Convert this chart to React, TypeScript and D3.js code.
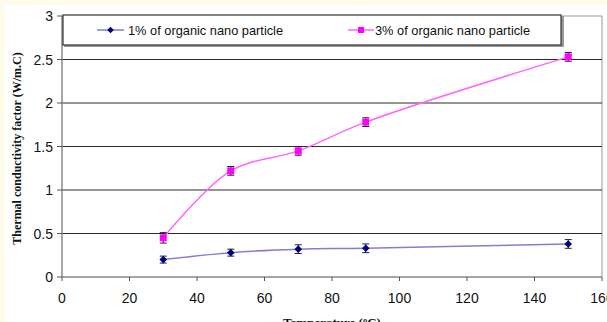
import React from "react";
import * as d3 from "d3";

// temperatures (ºC) and conductivity values
const temps = [30, 50, 70, 90, 150];
const onePct = [0.2, 0.28, 0.32, 0.33, 0.38];
const oneErr = [0.04, 0.04, 0.05, 0.05, 0.05];
const threePct = [0.45, 1.22, 1.45, 1.78, 2.53];
const threeErr = [0.06, 0.05, 0.05, 0.05, 0.05];
const xTicks = [0, 20, 40, 60, 80, 100, 120, 140, 160];
const yTicks = [0, 0.5, 1, 1.5, 2, 2.5, 3];
const seriesNames = ["1% of organic nano particle", "3% of organic nano particle"];

const W = 607;
const H = 322;
const margin = { left: 62, right: 5, top: 16, bottom: 45 };

export default function App() {
  const x = d3.scaleLinear().domain([0, 160]).range([margin.left, W - margin.right]);
  const y = d3.scaleLinear().domain([0, 3]).range([H - margin.bottom, margin.top]);

  const line = d3
    .line<[number, number]>()
    .x((d) => x(d[0]))
    .y((d) => y(d[1]))
    .curve(d3.curveCatmullRom.alpha(0.5));

  const s1 = temps.map((t, i) => [t, onePct[i]] as [number, number]);
  const s3 = temps.map((t, i) => [t, threePct[i]] as [number, number]);

  const diamond = (cx: number, cy: number, r = 3.8) =>
    `M${cx},${cy - r}L${cx + r},${cy}L${cx},${cy + r}L${cx - r},${cy}Z`;

  const errBars = (vals: number[], errs: number[], key: string) =>
    temps.map((t, i) => {
      const cx = x(t);
      const y0 = y(vals[i] - errs[i]);
      const y1 = y(vals[i] + errs[i]);
      return (
        <g key={key + i} stroke="#222" strokeWidth={1}>
          <line x1={cx} x2={cx} y1={y0} y2={y1} />
          <line x1={cx - 3.5} x2={cx + 3.5} y1={y0} y2={y0} />
          <line x1={cx - 3.5} x2={cx + 3.5} y1={y1} y2={y1} />
        </g>
      );
    });

  const x0 = x(0);
  const x1 = x(160);
  const yb = y(0);
  const yt = y(3);

  return (
    <svg
      width={W}
      height={H}
      style={{ position: "absolute", left: 0, top: 0, background: "#fff" }}
      fontFamily="Arial, 'Liberation Sans', sans-serif"
    >
      <rect x={0} y={0} width={W} height={H} fill="#fffbea" />
      <rect x={5} y={5} width={W - 5} height={H - 5} fill="#fff" />

      {/* plot frame */}
      <line x1={x0} x2={x1} y1={yt} y2={yt} stroke="#999" />
      <line x1={x1} x2={x1} y1={yt} y2={yb} stroke="#999" />

      {/* gridlines */}
      {yTicks.slice(1, -1).map((v) => (
        <line key={"g" + v} x1={x0} x2={x1} y1={y(v)} y2={y(v)} stroke="#2a2a2a" strokeWidth={1.2} />
      ))}

      {/* axes */}
      <line x1={x0} x2={x0} y1={yt} y2={yb} stroke="#888" strokeWidth={1.5} />
      <line x1={x0} x2={x1} y1={yb} y2={yb} stroke="#888" strokeWidth={1.5} />
      {yTicks.map((v) => (
        <g key={"yt" + v}>
          <line x1={x0 - 5} x2={x0} y1={y(v)} y2={y(v)} stroke="#555" />
          <text x={x0 - 9} y={y(v) + 5} textAnchor="end" fontSize={14} fill="#111">
            {v}
          </text>
        </g>
      ))}
      {xTicks.map((v) => (
        <g key={"xt" + v}>
          <line x1={x(v)} x2={x(v)} y1={yb} y2={yb + 4} stroke="#555" />
          <text x={x(v)} y={yb + 26} textAnchor="middle" fontSize={14} fill="#111">
            {v}
          </text>
        </g>
      ))}

      {/* series */}
      <path d={line(s1) ?? ""} fill="none" stroke="#8080d0" strokeWidth={1.5} />
      <path d={line(s3) ?? ""} fill="none" stroke="#ff66ff" strokeWidth={1.5} />
      {errBars(onePct, oneErr, "e1")}
      {errBars(threePct, threeErr, "e3")}
      {s1.map((d, i) => (
        <path key={"m1" + i} d={diamond(x(d[0]), y(d[1]))} fill="#000080" />
      ))}
      {s3.map((d, i) => (
        <rect key={"m3" + i} x={x(d[0]) - 3.5} y={y(d[1]) - 3.5} width={7} height={7} fill="#ff00ff" />
      ))}

      {/* legend */}
      <rect x={64} y={16} width={500} height={31} fill="#999" />
      <rect x={63} y={15} width={498} height={30} fill="#fff" stroke="#333" strokeWidth={1.2} />
      <line x1={97} x2={124} y1={30} y2={30} stroke="#8080d0" strokeWidth={1.5} />
      <path d={diamond(110.5, 30, 3.3)} fill="#000080" />
      <text x={128} y={35} fontSize={12.8} fill="#111">
        {seriesNames[0]}
      </text>
      <line x1={348} x2={374} y1={30} y2={30} stroke="#ff66ff" strokeWidth={1.5} />
      <rect x={358} y={27} width={6} height={6} fill="#ff00ff" />
      <text x={375} y={35} fontSize={12.8} fill="#111">
        {seriesNames[1]}
      </text>

      {/* axis titles */}
      <text
        transform={`translate(21,${(yt + yb) / 2 + 2}) rotate(-90)`}
        textAnchor="middle"
        fontFamily="'Liberation Serif', 'Times New Roman', serif"
        fontWeight="bold"
        fontSize={12}
        fill="#111"
      >
        Thermal conductivity factor (W/m.C)
      </text>
      <text
        x={332}
        y={327}
        textAnchor="middle"
        fontFamily="'Liberation Serif', 'Times New Roman', serif"
        fontWeight="bold"
        fontSize={13}
        fill="#111"
      >
        Temperature (ºC)
      </text>
    </svg>
  );
}
